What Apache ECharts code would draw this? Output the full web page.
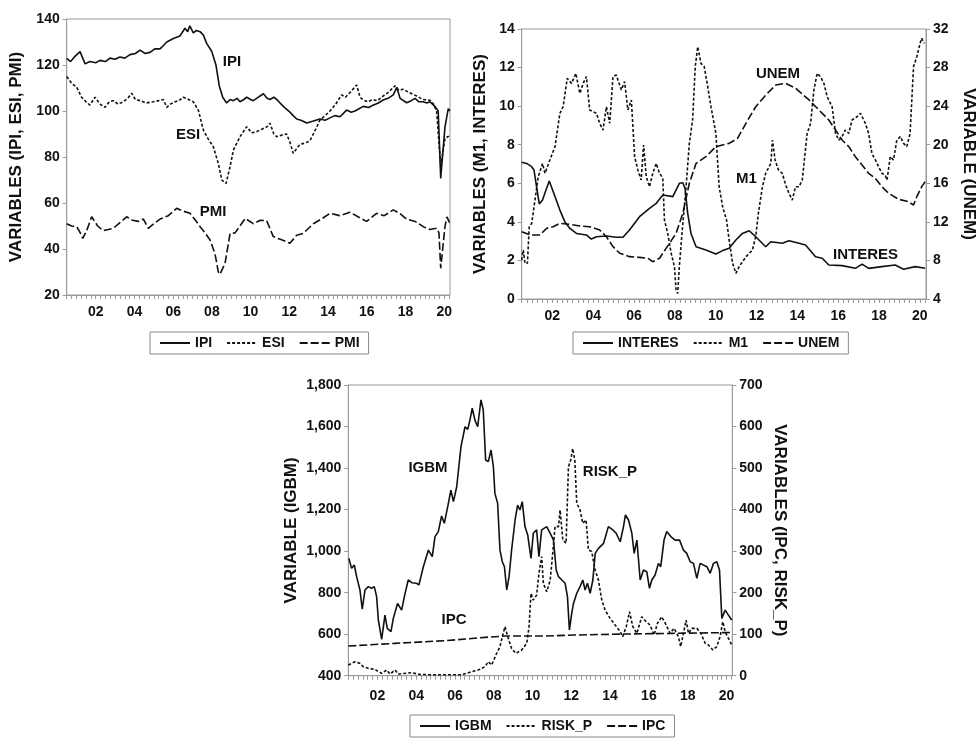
<!DOCTYPE html>
<html>
<head>
<meta charset="utf-8">
<script src="https://cdn.jsdelivr.net/npm/echarts@6/dist/echarts.min.js"></script>
<style>html,body{margin:0;padding:0;background:#fff}#c{width:978px;height:742px}</style>
</head>
<body>
<div id="c"></div>
<script>
// ---------- axis settings ----------
const xMin = 2000.5, xMax = 2020.3;
const yearLabels = [2002, 2004, 2006, 2008, 2010, 2012, 2014, 2016, 2018, 2020];

// ---------- Panel 1 (IPI, ESI, PMI) ----------
const IPI = [[2000.50,122.9],[2000.70,121.5],[2000.90,123.5],[2001.19,125.8],[2001.45,120.5],[2001.70,121.5],[2002.00,121],[2002.22,122],[2002.50,121.5],[2002.73,123],[2003.00,122.5],[2003.25,123.5],[2003.50,123],[2003.77,124.5],[2004.05,125],[2004.29,126.5],[2004.55,125],[2004.80,125.5],[2005.05,127],[2005.32,127],[2005.50,128.5],[2005.67,130],[2006.01,131.5],[2006.35,132.6],[2006.61,136],[2006.75,134.5],[2006.86,137],[2007.04,134],[2007.20,135],[2007.39,134.5],[2007.56,133],[2007.73,129.4],[2007.99,126],[2008.21,120],[2008.38,111],[2008.56,106],[2008.76,103.5],[2008.95,105],[2009.11,104.5],[2009.30,105.5],[2009.45,104],[2009.65,105],[2009.80,106],[2010.00,105],[2010.14,104.5],[2010.40,106],[2010.66,107.5],[2010.85,105.5],[2011.00,105],[2011.20,106],[2011.35,105],[2011.69,102],[2012.03,99.5],[2012.20,98],[2012.38,96.5],[2012.60,96],[2012.90,94.8],[2013.20,95.5],[2013.58,96.5],[2013.85,96],[2014.10,97],[2014.35,98],[2014.62,97.5],[2014.96,100.4],[2015.20,99.5],[2015.39,100],[2015.60,101],[2015.82,102],[2016.10,101.5],[2016.32,102.5],[2016.60,103.5],[2016.85,104.8],[2017.10,105.5],[2017.37,107],[2017.55,110.3],[2017.72,105.5],[2018.06,103.6],[2018.30,104.5],[2018.49,105.5],[2018.70,104],[2018.92,104],[2019.10,103.5],[2019.27,104],[2019.52,102],[2019.69,100],[2019.82,70.7],[2020.04,93],[2020.21,101],[2020.30,100]];
const ESI = [[2000.50,115],[2000.76,112],[2001.02,110.3],[2001.27,106],[2001.50,104],[2001.70,102.6],[2001.96,106],[2002.22,103],[2002.48,101.6],[2002.70,104],[2002.91,104.5],[2003.15,103],[2003.42,104],[2003.65,105.5],[2003.86,107.7],[2004.05,105],[2004.29,104.5],[2004.60,103.5],[2004.97,104],[2005.25,104.5],[2005.49,105],[2005.67,101.6],[2005.85,103],[2006.09,104],[2006.30,104.5],[2006.52,106],[2006.80,105],[2007.04,104],[2007.30,100.4],[2007.56,91.7],[2007.80,88],[2008.07,84.5],[2008.33,77.3],[2008.51,70],[2008.73,68.5],[2008.94,75.8],[2009.11,83],[2009.45,88.8],[2009.80,93.2],[2010.05,90.5],[2010.31,91],[2010.55,92],[2010.83,93],[2011.00,94.7],[2011.20,90],[2011.35,88.8],[2011.60,89.5],[2011.86,90],[2012.05,86],[2012.20,81.6],[2012.55,85.5],[2012.80,86],[2013.06,87],[2013.30,91],[2013.58,96],[2013.85,98],[2014.10,100],[2014.40,103],[2014.70,107],[2014.90,106],[2015.13,108],[2015.48,111.3],[2015.65,106],[2015.82,104.8],[2016.05,104],[2016.32,105],[2016.55,104.5],[2016.84,106.5],[2017.10,108],[2017.46,111],[2017.65,109],[2017.87,109.5],[2018.20,108],[2018.58,106.5],[2018.90,105],[2019.27,104.7],[2019.45,103],[2019.61,100],[2019.82,76],[2020.04,88],[2020.21,89],[2020.30,88]];
const PMI = [[2000.50,51],[2000.75,50],[2001.02,49.7],[2001.20,47],[2001.33,44.6],[2001.53,48],[2001.79,54],[2002.10,50],[2002.39,48],[2002.65,48.5],[2002.91,49],[2003.25,51.5],[2003.60,54],[2003.90,52.5],[2004.20,52],[2004.46,53],[2004.71,49],[2005.00,51],[2005.32,53],[2005.75,54.5],[2006.18,57.7],[2006.50,56.5],[2006.87,55.5],[2007.15,52.5],[2007.39,49.7],[2007.65,47],[2007.90,44],[2008.16,38],[2008.33,30.1],[2008.42,29],[2008.68,33.8],[2008.94,46.8],[2009.20,47],[2009.45,50],[2009.72,53.3],[2010.14,51],[2010.50,52.5],[2010.83,52.3],[2011.17,45.4],[2011.60,44],[2012.03,42.5],[2012.38,46],[2012.72,46.8],[2013.24,51],[2013.65,53],[2014.10,55.5],[2014.60,54.5],[2015.13,56],[2015.55,54],[2015.99,52],[2016.51,55.5],[2016.90,54.5],[2017.37,57],[2017.70,55.5],[2018.06,53],[2018.50,52],[2018.92,49.7],[2019.25,48.5],[2019.61,49],[2019.73,47],[2019.82,31.6],[2020.04,49.7],[2020.14,54],[2020.30,51]];

// ---------- Panel 2 (INTERES, M1, UNEM) ----------
const INTERES = [[2000.50,7.09],[2000.74,7.03],[2000.99,6.86],[2001.10,6.69],[2001.23,5.82],[2001.36,4.93],[2001.52,5.13],[2001.69,5.65],[2001.85,6.12],[2002.13,5.31],[2002.37,4.61],[2002.61,4.01],[2002.86,3.66],[2003.18,3.40],[2003.67,3.32],[2003.91,3.11],[2004.16,3.23],[2004.65,3.27],[2005.13,3.20],[2005.46,3.20],[2005.78,3.58],[2006.27,4.27],[2006.76,4.70],[2007.09,4.96],[2007.41,5.39],[2007.90,5.31],[2008.22,6.00],[2008.39,6.03],[2008.50,5.74],[2008.63,4.44],[2008.79,3.40],[2009.04,2.71],[2009.52,2.54],[2010.01,2.33],[2010.34,2.51],[2010.66,2.63],[2010.99,3.06],[2011.31,3.40],[2011.64,3.54],[2011.96,3.23],[2012.45,2.71],[2012.70,2.97],[2013.26,2.89],[2013.59,3.02],[2014.08,2.89],[2014.40,2.80],[2014.89,2.19],[2015.22,2.11],[2015.54,1.76],[2016.19,1.73],[2016.84,1.59],[2017.17,1.81],[2017.49,1.59],[2018.14,1.68],[2018.79,1.76],[2019.20,1.54],[2019.77,1.68],[2020.26,1.59]];
const M1 = [[2000.50,2.02],[2000.58,2.54],[2000.66,1.85],[2000.78,1.85],[2000.87,3.75],[2000.99,3.92],[2001.15,5.13],[2001.31,6.34],[2001.52,7.03],[2001.64,6.52],[2001.88,7.21],[2002.13,7.90],[2002.37,9.63],[2002.53,9.97],[2002.73,11.44],[2002.94,11.18],[2003.15,11.70],[2003.35,10.66],[2003.51,11.18],[2003.67,11.53],[2003.83,9.80],[2004.16,9.63],[2004.32,9.11],[2004.48,8.76],[2004.65,9.97],[2004.81,9.11],[2004.97,11.53],[2005.13,11.61],[2005.38,10.84],[2005.54,11.27],[2005.70,9.80],[2005.87,10.32],[2006.03,7.38],[2006.19,6.69],[2006.35,6.17],[2006.47,7.98],[2006.60,6.34],[2006.76,5.82],[2006.92,6.52],[2007.09,7.03],[2007.25,6.52],[2007.41,6.26],[2007.49,4.10],[2007.65,3.40],[2007.82,2.37],[2007.98,1.68],[2008.06,0.47],[2008.14,0.29],[2008.22,1.68],[2008.35,3.40],[2008.55,5.82],[2008.71,8.07],[2008.87,9.28],[2009.00,12.05],[2009.12,13.08],[2009.28,12.22],[2009.44,12.05],[2009.61,11.01],[2009.77,9.97],[2010.01,8.59],[2010.17,5.82],[2010.34,4.79],[2010.53,4.10],[2010.66,3.06],[2010.83,1.85],[2010.99,1.33],[2011.15,1.68],[2011.48,2.19],[2011.80,2.54],[2011.96,3.23],[2012.09,4.44],[2012.29,5.82],[2012.45,6.52],[2012.70,7.03],[2012.78,8.24],[2012.91,7.21],[2013.07,6.69],[2013.26,6.52],[2013.43,5.91],[2013.59,5.48],[2013.75,5.13],[2013.91,5.82],[2014.08,5.82],[2014.24,6.17],[2014.48,8.59],[2014.65,9.11],[2014.81,10.84],[2014.97,11.70],[2015.13,11.53],[2015.30,11.18],[2015.46,10.49],[2015.70,9.97],[2015.87,8.59],[2016.03,8.24],[2016.19,8.42],[2016.35,8.76],[2016.52,8.59],[2016.68,9.28],[2016.92,9.45],[2017.09,9.63],[2017.33,9.11],[2017.49,8.59],[2017.65,7.55],[2017.82,7.21],[2017.98,6.86],[2018.14,6.52],[2018.30,6.43],[2018.39,6.17],[2018.55,7.38],[2018.71,7.21],[2018.87,8.24],[2019.04,8.42],[2019.20,8.07],[2019.36,7.90],[2019.52,8.59],[2019.69,12.05],[2019.85,12.56],[2020.01,13.26],[2020.09,13.52],[2020.22,13.26]];
const UNEM = [[2000.50,10.98],[2000.91,10.64],[2001.39,10.64],[2001.72,11.33],[2002.04,11.50],[2002.37,11.85],[2002.86,11.74],[2003.35,11.57],[2003.83,11.50],[2004.32,11.16],[2004.65,10.46],[2004.97,9.43],[2005.30,8.74],[2005.78,8.39],[2006.27,8.32],[2006.68,8.22],[2006.92,7.87],[2007.25,8.22],[2007.57,9.25],[2008.06,10.81],[2008.39,12.88],[2008.71,16.0],[2009.04,18.07],[2009.52,18.76],[2010.01,19.80],[2010.66,20.14],[2011.07,20.66],[2011.48,22.22],[2011.96,23.94],[2012.45,25.15],[2012.94,26.19],[2013.43,26.36],[2013.91,25.85],[2014.57,24.64],[2015.22,23.25],[2015.54,22.56],[2015.87,21.53],[2016.19,20.49],[2016.52,19.80],[2016.84,18.76],[2017.17,17.90],[2017.49,17.03],[2017.82,16.51],[2018.14,15.65],[2018.47,14.96],[2018.96,14.34],[2019.44,14.09],[2019.69,13.75],[2019.85,14.61],[2020.09,15.65],[2020.26,16.17]];

// ---------- Panel 3 (IGBM, RISK_P, IPC) ----------
const IGBM = [[2000.53,965],[2000.67,917],[2000.81,933],[2000.93,877],[2001.10,813],[2001.22,720],[2001.36,813],[2001.53,829],[2001.70,821],[2001.84,829],[2001.96,781],[2002.05,668],[2002.22,575],[2002.39,692],[2002.51,628],[2002.70,612],[2002.82,676],[2003.04,748],[2003.25,716],[2003.39,781],[2003.59,861],[2003.77,848],[2004.02,845],[2004.14,837],[2004.37,925],[2004.63,1005],[2004.83,973],[2004.97,1070],[2005.14,1094],[2005.31,1169],[2005.45,1134],[2005.66,1230],[2005.79,1294],[2005.92,1238],[2006.09,1310],[2006.31,1503],[2006.52,1599],[2006.66,1586],[2006.77,1631],[2006.89,1688],[2007.03,1631],[2007.17,1599],[2007.34,1728],[2007.46,1680],[2007.58,1439],[2007.72,1431],[2007.86,1487],[2007.98,1407],[2008.06,1278],[2008.20,1230],[2008.32,1005],[2008.44,949],[2008.55,925],[2008.67,813],[2008.79,877],[2008.92,1005],[2009.10,1150],[2009.23,1222],[2009.35,1198],[2009.47,1238],[2009.61,1118],[2009.75,1078],[2009.92,965],[2010.04,1086],[2010.21,1102],[2010.33,973],[2010.47,1102],[2010.56,1110],[2010.73,1118],[2010.91,1086],[2011.08,1053],[2011.22,909],[2011.34,877],[2011.51,861],[2011.68,845],[2011.80,781],[2011.90,620],[2012.02,700],[2012.11,748],[2012.28,797],[2012.45,829],[2012.59,861],[2012.71,813],[2012.83,845],[2012.97,797],[2013.11,861],[2013.23,989],[2013.40,1013],[2013.66,1037],[2013.91,1118],[2014.14,1102],[2014.31,1086],[2014.52,1045],[2014.69,1118],[2014.79,1174],[2014.95,1150],[2015.12,1086],[2015.24,989],[2015.38,1053],[2015.55,861],[2015.72,909],[2015.89,901],[2016.03,821],[2016.15,861],[2016.32,885],[2016.49,941],[2016.61,925],[2016.78,1053],[2016.92,1094],[2017.13,1070],[2017.35,1053],[2017.58,1053],[2017.78,1005],[2017.95,989],[2018.13,949],[2018.30,941],[2018.47,869],[2018.64,941],[2018.81,933],[2018.99,925],[2019.16,893],[2019.33,941],[2019.50,949],[2019.64,909],[2019.76,676],[2019.93,716],[2020.10,692],[2020.27,668]];
const RISK_P = [[2000.50,25.7],[2000.84,33.7],[2001.10,29.7],[2001.27,21.7],[2001.53,17.7],[2001.88,15.3],[2002.05,9.6],[2002.22,5.6],[2002.48,13.6],[2002.65,4],[2002.91,13.6],[2003.08,4],[2003.77,7.2],[2004.20,3],[2004.63,2.4],[2005.49,2.4],[2006.35,2.4],[2006.86,9.6],[2007.20,13.6],[2007.55,21.7],[2007.72,33.7],[2007.89,25.7],[2008.15,53.8],[2008.32,69.8],[2008.44,93.9],[2008.58,118],[2008.72,93.9],[2008.92,65.8],[2009.13,53.8],[2009.44,61.8],[2009.70,77.9],[2009.82,118],[2009.92,198],[2010.04,182],[2010.21,194],[2010.33,246],[2010.47,287],[2010.56,222],[2010.73,202],[2010.91,230],[2011.04,295],[2011.16,359],[2011.34,359],[2011.42,399],[2011.56,327],[2011.73,319],[2011.85,503],[2011.97,519],[2012.07,547],[2012.18,519],[2012.28,415],[2012.45,399],[2012.59,367],[2012.76,375],[2012.88,303],[2013.05,299],[2013.23,254],[2013.40,230],[2013.57,182],[2013.74,158],[2014.00,138],[2014.26,122],[2014.52,106],[2014.65,94],[2014.83,118],[2015.00,154],[2015.17,118],[2015.38,102],[2015.63,142],[2015.86,130],[2016.06,122],[2016.27,98],[2016.44,126],[2016.66,142],[2016.89,122],[2017.09,102],[2017.30,114],[2017.52,94],[2017.64,70],[2017.78,102],[2017.92,134],[2018.04,102],[2018.21,114],[2018.47,114],[2018.68,102],[2018.90,78],[2019.07,74],[2019.30,62],[2019.50,70],[2019.67,94],[2019.81,130],[2019.93,106],[2020.10,90],[2020.27,74]];
const IPC = [[2000.50,71.4],[2002.91,77.9],[2005.49,84.3],[2007.55,92.3],[2008.58,95.5],[2010.64,95.5],[2012.11,97.9],[2014.69,100.3],[2017.27,102],[2020.27,104]];

// ---------- styling ----------
const FONT = "'Liberation Sans', Arial, sans-serif";
const TXT = '#111';
const AX = '#9a9a9a';
const NOFILL = 'rgba(0,0,0,0)';
const SOLID = 'solid', SHORT = [3, 2], LONG = [8, 3];

const quarterTicks = [];
for (let t = xMin; t <= xMax + 1e-9; t += 0.25) quarterTicks.push(+t.toFixed(2));

function xAxis(gi, margin) {
  return {
    type: 'value', gridIndex: gi, min: xMin, max: xMax,
    axisLine: { show: true, lineStyle: { color: AX, width: 1 } },
    axisTick: { show: true, customValues: quarterTicks, length: 4, lineStyle: { color: AX } },
    axisLabel: { customValues: yearLabels, margin: margin, color: TXT, fontFamily: FONT, fontWeight: 'bold', fontSize: 14,
      formatter: v => String(Math.round(v) % 100).padStart(2, '0') },
    splitLine: { show: false }
  };
}
function yAxis(gi, pos, min, max, interval, name, gap, fmt) {
  return {
    type: 'value', gridIndex: gi, position: pos, min, max, interval,
    name, nameLocation: 'middle', nameGap: gap, nameRotate: pos === 'left' ? 90 : -90,
    nameMoveOverlap: false,
    nameTextStyle: { color: TXT, fontFamily: FONT, fontWeight: 'bold', fontSize: 17 },
    axisLine: { show: true, lineStyle: { color: AX, width: 1 } },
    axisTick: { show: true, length: 4, lineStyle: { color: AX } },
    axisLabel: { margin: 7, color: TXT, fontFamily: FONT, fontWeight: 'bold', fontSize: 14, formatter: fmt },
    splitLine: { show: false }
  };
}
function lineSeries(name, data, xi, yi, type, label) {
  const s = {
    name, type: 'line', data, xAxisIndex: xi, yAxisIndex: yi,
    showSymbol: false, symbol: 'none', smooth: false,
    lineStyle: { color: TXT, width: 1.6, type: type },
    itemStyle: { color: NOFILL, borderWidth: 0 }
  };
  if (label) {
    s.markPoint = {
      symbol: 'circle', symbolSize: 1, itemStyle: { color: NOFILL },
      label: { show: true, position: 'inside', formatter: '{b}', color: TXT, fontFamily: FONT, fontWeight: 'bold', fontSize: 15 },
      data: [{ name: name, coord: label }]
    };
  }
  return s;
}
function legend(names, left, top) {
  return {
    data: names, left, top, orient: 'horizontal',
    itemWidth: 30, itemHeight: 12, itemGap: 14,
    padding: [4, 9], borderColor: '#888', borderWidth: 1,
    itemStyle: { color: NOFILL, borderWidth: 0, opacity: 0 },
    textStyle: { color: TXT, fontFamily: FONT, fontWeight: 'bold', fontSize: 14 }
  };
}

const comma = v => v.toLocaleString('en-US');

const option = {
  animation: false,
  backgroundColor: '#fff',
  grid: [
    { left: 66.7, top: 19, width: 383.3, height: 276, show: true, borderColor: AX, borderWidth: 1 },
    { left: 521.7, top: 29, width: 406, height: 270, show: true, borderColor: AX, borderWidth: 1 },
    { left: 348.3, top: 385, width: 384, height: 290.7, show: true, borderColor: AX, borderWidth: 1 }
  ],
  xAxis: [xAxis(0, 10), xAxis(1, 10), xAxis(2, 13)],
  yAxis: [
    yAxis(0, 'left', 20, 140, 20, 'VARIABLES (IPI, ESI, PMI)', 42),
    yAxis(1, 'left', 0, 14, 2, 'VARIABLES (M1, INTERES)', 33),
    yAxis(1, 'right', 4, 32, 4, 'VARIABLE (UNEM)', 34),
    yAxis(2, 'left', 400, 1800, 200, 'VARIABLE (IGBM)', 48, comma),
    yAxis(2, 'right', 0, 700, 100, 'VARIABLES (IPC, RISK_P)', 39)
  ],
  legend: [
    legend(['IPI', 'ESI', 'PMI'], 150, 332),
    legend(['INTERES', 'M1', 'UNEM'], 573, 332),
    legend(['IGBM', 'RISK_P', 'IPC'], 410, 715)
  ],
  series: [
    lineSeries('IPI', IPI, 0, 0, SOLID, [2009.04, 121.3]),
    lineSeries('ESI', ESI, 0, 0, SHORT, [2006.77, 89.6]),
    lineSeries('PMI', PMI, 0, 0, LONG, [2008.06, 56.1]),
    lineSeries('INTERES', INTERES, 1, 1, SOLID, [2017.34, 2.28]),
    lineSeries('M1', M1, 1, 1, SHORT, [2011.5, 6.22]),
    lineSeries('UNEM', UNEM, 1, 2, LONG, [2013.05, 27.33]),
    lineSeries('IGBM', IGBM, 2, 3, SOLID, [2004.61, 1400]),
    lineSeries('RISK_P', RISK_P, 2, 4, SHORT, [2013.99, 490]),
    lineSeries('IPC', IPC, 2, 4, LONG, [2005.95, 134])
  ]
};

const chart = echarts.init(document.getElementById('c'), null, { renderer: 'canvas' });
chart.setOption(option);
</script>
</body>
</html>
